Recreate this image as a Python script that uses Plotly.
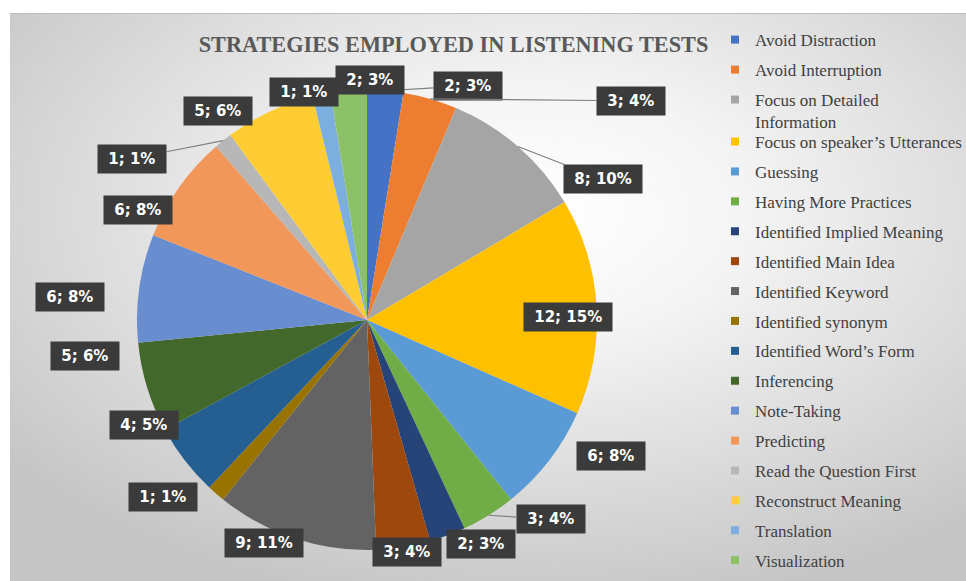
import base64
import math
import plotly.graph_objects as go

# ---------------- data ----------------
categories = [
    "Avoid Distraction", "Avoid Interruption", "Focus on Detailed Information",
    "Focus on speaker\u2019s Utterances", "Guessing", "Having More Practices",
    "Identified Implied Meaning", "Identified Main Idea", "Identified Keyword",
    "Identified synonym", "Identified Word\u2019s Form", "Inferencing",
    "Note-Taking", "Predicting", "Read the Question First",
    "Reconstruct Meaning", "Translation", "Visualization",
]
counts = [2, 3, 8, 12, 6, 3, 2, 3, 9, 1, 4, 5, 6, 6, 1, 5, 1, 2]
title_text = "STRATEGIES EMPLOYED IN LISTENING TESTS"

# ---------------- styles ----------------
colors = [
    "#4472C4", "#ED7D31", "#A5A5A5", "#FFC000", "#5B9BD5", "#70AD47",
    "#264478", "#9E480E", "#636363", "#997300", "#255E91", "#43682B",
    "#698ED0", "#F1975A", "#B7B7B7", "#FFCD33", "#7CAFDD", "#8CC168",
]
legend_names = [c if c != "Focus on Detailed Information" else "Focus on Detailed<br>Information"
                for c in categories]
split_at = 3  # first legend box holds the first three entries (one is wrapped)
# label offsets (pixels) from the slice's outer edge point, and leader-line flags
label_dx = [83, 201, 85, -29, 62, 62, 33, 4, -31, -53, -41, -62, -69, -41, -91, -52, -18, 21]
label_dy = [-5, 2, 33, 11, -4, 4, 9, 5, 5, 3, -35, -32, 9, 23, 18, -1, -3, -11]
leader = [1, 1, 1, 0, 0, 1, 0, 0, 0, 0, 0, 0, 0, 0, 1, 0, 0, 1]

W, H = 966, 581
ML, MT, MR, MB = 10, 13, 0, 0
PW, PH = W - ML - MR, H - MT - MB
CX, CY, R = 367, 320, 230  # pie centre / radius in pixels


def px_to_paper(x, y):
    return (x - ML) / PW, 1 - (y - MT) / PH


pcx, pcy = px_to_paper(CX, CY)
half_h = R / PH
half_w = 0.31

fig = go.Figure()
fig.add_trace(go.Pie(
    labels=categories, values=counts, sort=False, direction="clockwise",
    rotation=0, textinfo="none", showlegend=False,
    marker=dict(colors=colors, line=dict(width=0)),
    domain=dict(x=[pcx - half_w, pcx + half_w], y=[pcy - half_h, pcy + half_h]),
))

# legend entries
for i, (name, col, cat) in enumerate(zip(legend_names, colors, categories)):
    fig.add_trace(go.Scatter(
        x=[None], y=[None], mode="markers", name=name, legendgroup=cat,
        legend="legend" if i < split_at else "legend2",
        marker=dict(symbol="square", size=8, color=col), showlegend=True,
        hoverinfo="skip",
    ))

# data labels
total = sum(counts)
annotations = []
cum = 0
for i, v in enumerate(counts):
    mid = (cum + v / 2) / total * 2 * math.pi
    cum += v
    ax_px = CX + R * math.sin(mid)
    ay_px = CY - R * math.cos(mid)
    xp, yp = px_to_paper(ax_px, ay_px)
    pct = round(100 * v / total)
    annotations.append(dict(
        x=xp, y=yp, xref="paper", yref="paper",
        text=f"<b>\u00a0{v}; {pct}%\u00a0</b>",
        showarrow=True, arrowhead=0, arrowwidth=1.2,
        arrowcolor="#7f7f7f" if leader[i] else "rgba(0,0,0,0)",
        ax=label_dx[i], ay=label_dy[i],
        font=dict(family="DejaVu Sans", size=15, color="white"),
        bgcolor="#3b3b3b", borderpad=5,
    ))

svg = (
    '<svg xmlns="http://www.w3.org/2000/svg" width="956" height="568" '
    'preserveAspectRatio="none">'
    '<defs><radialGradient id="g" cx="0.55" cy="0.35" r="0.7">'
    '<stop offset="0" stop-color="#ffffff"/>'
    '<stop offset="0.3" stop-color="#f5f5f5"/>'
    '<stop offset="1" stop-color="#c6c6c6"/>'
    '</radialGradient></defs>'
    '<rect width="956" height="568" fill="url(#g)"/>'
    '<line x1="0" y1="0.5" x2="956" y2="0.5" stroke="#bdbdbd" stroke-width="1"/>'
    '</svg>'
)
bg_src = "data:image/svg+xml;base64," + base64.b64encode(svg.encode()).decode()

legend_style = dict(
    xanchor="left", yanchor="top",
    font=dict(family="Liberation Serif", size=17, color="#404040"),
    bgcolor="rgba(0,0,0,0)", traceorder="grouped",
    valign="top", itemwidth=30,
)

fig.update_layout(
    width=W, height=H,
    margin=dict(l=ML, r=MR, t=MT, b=MB, pad=0, autoexpand=False),
    paper_bgcolor="white", plot_bgcolor="rgba(0,0,0,0)",
    xaxis=dict(visible=False), yaxis=dict(visible=False),
    title=dict(
        text=f"<b>{title_text}</b>", x=453.5 / W, xanchor="center", xref="container",
        y=1 - 44 / H, yanchor="middle", yref="container",
        font=dict(family="Liberation Serif", size=22.3, color="#595959"),
    ),
    legend=dict(x=(715 - ML) / PW, y=1 - (22 - MT) / PH, tracegroupgap=4.9, **legend_style),
    legend2=dict(x=(715 - ML) / PW, y=1 - (124 - MT) / PH, tracegroupgap=4.8, **legend_style),
    annotations=annotations,
    images=[dict(source=bg_src, xref="paper", yref="paper", x=0, y=1,
                 sizex=1, sizey=1, xanchor="left", yanchor="top",
                 sizing="stretch", layer="below")],
    showlegend=True,
)

fig.write_html("out.html")
